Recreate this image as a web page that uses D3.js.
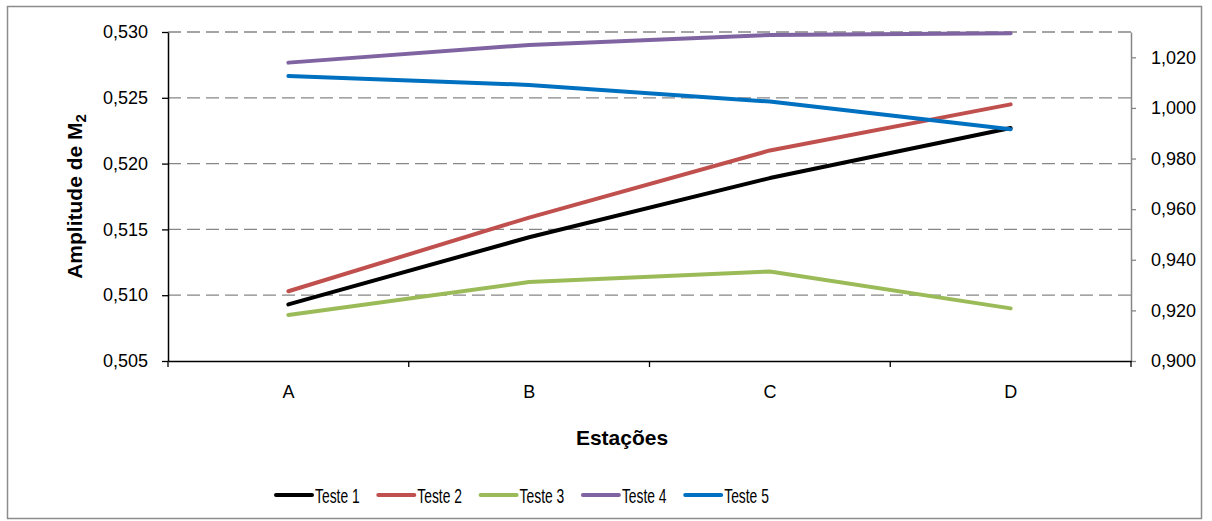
<!DOCTYPE html>
<html>
<head>
<meta charset="utf-8">
<script src="https://cdn.jsdelivr.net/npm/d3@7"></script>
<style>
  body { margin: 0; background: #fff; }
  text { font-family: "Liberation Sans", Arial, sans-serif; fill: #000; }
</style>
</head>
<body>
<div id="chart"></div>
<script>
// Data
const categories = ["A", "B", "C", "D"];
const teste1 = [0.5093, 0.5144, 0.5189, 0.5227];
const teste2 = [0.5103, 0.5159, 0.5210, 0.5245];
const teste3 = [0.5085, 0.5110, 0.5118, 0.5090];
const teste4 = [1.0179, 1.0249, 1.0288, 1.0295];
const teste5 = [1.0126, 1.0091, 1.0025, 0.9916];
const seriesNames = ["Teste 1", "Teste 2", "Teste 3", "Teste 4", "Teste 5"];
const leftTicks = [0.505, 0.510, 0.515, 0.520, 0.525, 0.530];
const rightTicks = [0.900, 0.920, 0.940, 0.960, 0.980, 1.000, 1.020];

const width = 1212, height = 521;
const margin = { top: 32, right: 81, bottom: 160, left: 168 };
const colors = ["#000000", "#c0504d", "#9bbb59", "#8064a2", "#0070c0"];

const svg = d3.select("#chart").append("svg")
    .attr("width", width)
    .attr("height", height);

// chart border
svg.append("rect")
    .attr("x", 7.5).attr("y", 6.5)
    .attr("width", 1194).attr("height", 512)
    .attr("fill", "none")
    .attr("stroke", "#8c8c8c")
    .attr("stroke-width", 1.5);

const x = d3.scaleBand().domain(categories).range([margin.left, width - margin.right]);
const yL = d3.scaleLinear().domain([0.505, 0.530]).range([height - margin.bottom, margin.top]);
const yR = d3.scaleLinear().domain([0.900, 1.030]).range([height - margin.bottom, margin.top]);

const comma = d3.formatLocale({ decimal: ",", thousands: ".", grouping: [3], currency: ["", ""] }).format(".3f");

// gridlines (left axis)
svg.append("g")
    .selectAll("line")
    .data(leftTicks.slice(1))
    .join("line")
    .attr("x1", margin.left).attr("x2", width - margin.right)
    .attr("y1", d => yL(d)).attr("y2", d => yL(d))
    .attr("stroke", "#868686")
    .attr("stroke-width", 1.3)
    .attr("stroke-dasharray", "13,6");

// left axis
const gL = svg.append("g")
    .attr("transform", `translate(${margin.left},0)`)
    .call(d3.axisLeft(yL).tickValues(leftTicks).tickFormat(comma).tickSize(6).tickSizeOuter(0).tickPadding(14));
gL.select(".domain").attr("stroke", "#000").attr("stroke-width", 1.5);
gL.selectAll(".tick line").attr("stroke", "#000").attr("stroke-width", 1.3);
gL.selectAll("text").attr("font-size", 18).attr("font-family", "Liberation Sans, Arial, sans-serif");

// right axis
const gR = svg.append("g")
    .attr("transform", `translate(${width - margin.right},0)`)
    .call(d3.axisRight(yR).tickValues(rightTicks).tickFormat(comma).tickSize(5).tickSizeOuter(0).tickPadding(15));
gR.select(".domain").attr("stroke", "#868686").attr("stroke-width", 1.5);
gR.selectAll(".tick line").attr("stroke", "#868686").attr("stroke-width", 1.3);
gR.selectAll("text").attr("font-size", 18).attr("font-family", "Liberation Sans, Arial, sans-serif");

// bottom axis
const gB = svg.append("g")
    .attr("transform", `translate(0,${height - margin.bottom})`)
    .call(d3.axisBottom(x).tickSize(0).tickPadding(24));
gB.select(".domain").attr("stroke", "#000").attr("stroke-width", 1.5);
gB.selectAll("text").attr("font-size", 18).attr("font-family", "Liberation Sans, Arial, sans-serif");

// category boundary ticks
const bounds = categories.map(c => x(c)).concat([x(categories[categories.length - 1]) + x.bandwidth()]);
gB.append("g")
    .selectAll("line")
    .data(bounds)
    .join("line")
    .attr("x1", d => d).attr("x2", d => d)
    .attr("y1", 0).attr("y2", 6)
    .attr("stroke", "#000")
    .attr("stroke-width", 1.3);

// lines
const cx = c => x(c) + x.bandwidth() / 2;
const lineL = d3.line().x((d, i) => cx(categories[i])).y(d => yL(d));
const lineR = d3.line().x((d, i) => cx(categories[i])).y(d => yR(d));
const series = [
    { values: teste1, line: lineL },
    { values: teste2, line: lineL },
    { values: teste3, line: lineL },
    { values: teste4, line: lineR },
    { values: teste5, line: lineR }
];
svg.append("g")
    .selectAll("path")
    .data(series)
    .join("path")
    .attr("d", d => d.line(d.values))
    .attr("fill", "none")
    .attr("stroke", (d, i) => colors[i])
    .attr("stroke-width", 4)
    .attr("stroke-linecap", "round")
    .attr("stroke-linejoin", "round");

// axis titles
svg.append("text")
    .attr("transform", `translate(82,${(yL.range()[0] + yL.range()[1]) / 2}) rotate(-90)`)
    .attr("text-anchor", "middle")
    .attr("font-size", 21)
    .attr("font-weight", "bold")
    .text("Amplitude de M")
    .append("tspan")
    .attr("font-size", 15)
    .attr("dy", 4)
    .text("2");

svg.append("text")
    .attr("x", 622)
    .attr("y", 445)
    .attr("text-anchor", "middle")
    .attr("font-size", 21)
    .attr("font-weight", "bold")
    .text("Estações");

// legend
const legend = svg.append("g").attr("transform", "translate(276,495)");
const items = legend.selectAll("g")
    .data(seriesNames)
    .join("g")
    .attr("transform", (d, i) => `translate(${i * 102.3},0)`);
items.append("line")
    .attr("x1", 0).attr("x2", 36)
    .attr("stroke", (d, i) => colors[i])
    .attr("stroke-width", 4)
    .attr("stroke-linecap", "round");
items.append("text")
    .attr("transform", "translate(39,7.5) scale(0.66,1)")
    .attr("font-size", 21)
    .text(d => d);
</script>
</body>
</html>
